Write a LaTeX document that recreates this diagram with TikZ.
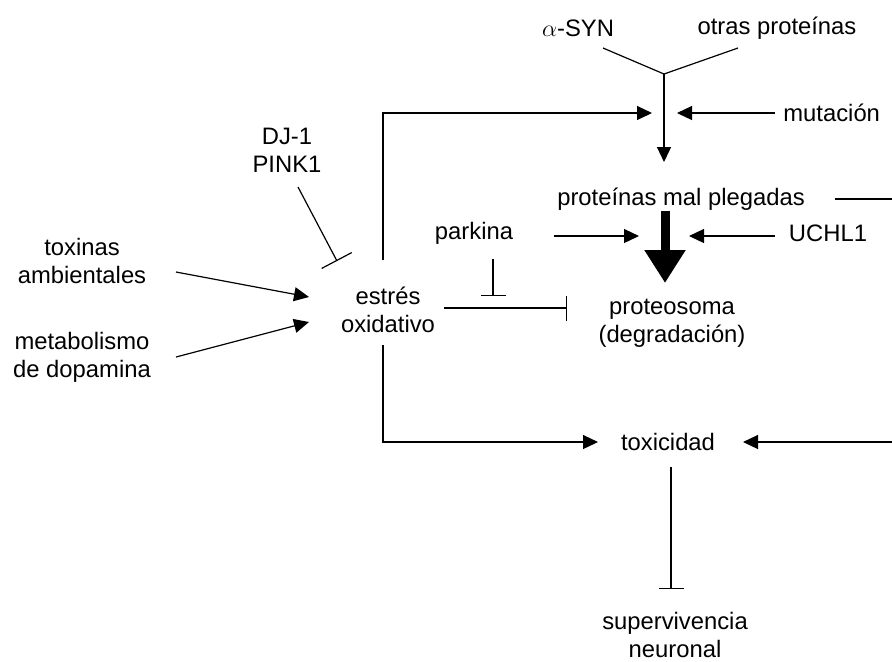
\documentclass[tikz,border=0pt]{standalone}
\usepackage{fontspec}
\setmainfont{Liberation Sans}
\usetikzlibrary{arrows.meta}
\begin{document}
\begin{tikzpicture}[x=0.5pt,y=-0.5pt,
  lbl/.style={inner sep=0pt,align=center,font=\fontsize{11.9}{14}\selectfont},
  ln/.style={line width=0.6pt},
  arr/.style={ln,-{Triangle[length=7.5pt,width=7pt]}},
  inh/.style={ln,-{Bar[width=12.5pt,line width=0.6pt]}},
  big/.style={line width=4.5pt,-{Triangle[length=16.5pt,width=19.5pt]}}]
\useasboundingbox (0,0) rectangle (892,661);
% nodes
\node[lbl] (asyn) at (578,28) {$\alpha$-SYN};
\node[lbl] (otras) at (777,28) {otras proteínas};
\node[lbl,anchor=west] (mut) at (783,113) {mutación};
\node[lbl] (pmp) at (681,199) {proteínas mal plegadas};
\node[lbl] (park) at (474,233) {parkina};
\node[lbl] (uchl) at (828,233) {UCHL1};
\node[lbl] (prot) at (672,323) {proteosoma\\(degradación)};
\node[lbl] (estres) at (388,310) {estrés\\oxidativo};
\node[lbl] (dj) at (287,150) {DJ-1\\PINK1};
\node[lbl] (toxa) at (82,261) {toxinas\\ambientales};
\node[lbl] (met) at (82,357) {metabolismo\\de dopamina};
\node[lbl] (toxi) at (668,442) {toxicidad};
\node[lbl] (sup) at (675,635) {supervivencia\\neuronal};
% coordinates
\coordinate (cL) at (603,48);
\coordinate (cR) at (738,48);
\coordinate (j) at (664,74);
\coordinate (jt) at (664,162);
\coordinate (fbA) at (383,260);
\coordinate (fbB) at (383,113);
\coordinate (fbT) at (652,113);
\coordinate (mS) at (775,113);
\coordinate (mT) at (677,113);
\coordinate (pR) at (835,199);
\coordinate (pE) at (892,199);
\coordinate (bigS) at (665,211);
\coordinate (bigT) at (665,283);
\coordinate (paS) at (554,236);
\coordinate (paT) at (639,236);
\coordinate (ucS) at (775,236);
\coordinate (ucT) at (689,236);
\coordinate (piS) at (493,259);
\coordinate (piT) at (493,296);
\coordinate (eiS) at (444,308);
\coordinate (eiT) at (567,308);
\coordinate (djS) at (298,187);
\coordinate (djT) at (337,261);
\coordinate (taS) at (176,272);
\coordinate (taT) at (309,297);
\coordinate (meS) at (176,357);
\coordinate (meT) at (309,322);
\coordinate (edS) at (383,345);
\coordinate (edB) at (383,442);
\coordinate (edT) at (598,442);
\coordinate (trS) at (892,442);
\coordinate (trT) at (743,442);
\coordinate (tiS) at (671,467);
\coordinate (tiT) at (671,589);
% connectors
\draw[ln] (cL) -- (j) -- (cR);
\draw[arr] (j) -- (jt);
\draw[arr] (fbA) -- (fbB) -- (fbT);
\draw[arr] (mS) -- (mT);
\draw[ln] (pR) -- (pE);
\draw[big] (bigS) -- (bigT);
\draw[arr] (paS) -- (paT);
\draw[arr] (ucS) -- (ucT);
\draw[inh] (piS) -- (piT);
\draw[inh] (eiS) -- (eiT);
\draw[ln,-{Bar[width=17pt,line width=0.6pt]}] (djS) -- (djT);
\draw[arr] (taS) -- (taT);
\draw[arr] (meS) -- (meT);
\draw[arr] (edS) -- (edB) -- (edT);
\draw[arr] (trS) -- (trT);
\draw[inh] (tiS) -- (tiT);
\end{tikzpicture}
\end{document}
